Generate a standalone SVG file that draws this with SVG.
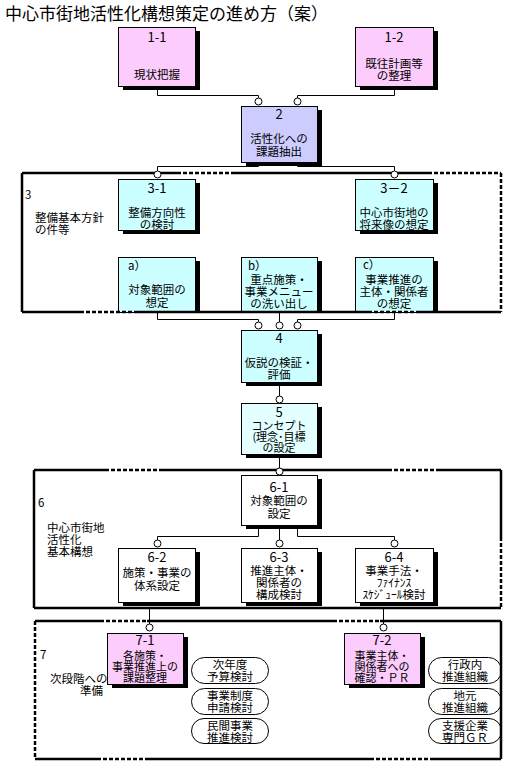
<svg xmlns="http://www.w3.org/2000/svg" width="513" height="769" viewBox="0 0 513 769">
<style>
text{font-family:"Noto Sans CJK JP","Noto Sans",sans-serif;font-size:11.5px;fill:#000}
.c{text-anchor:middle}
.num{font-size:13px}
.sm{font-size:11px}
.title{font-size:17px}
.sh{fill:#000}
.box{stroke:#000;stroke-width:1}
.pink{fill:#fcccfc}
.lav{fill:#ccccff}
.cyan{fill:#ccffff}
.lcyan{fill:#e4ffff}
.white{fill:#fff}
.pill{fill:#fff;stroke:#000;stroke-width:1}
.fs{fill:none;stroke:#000;stroke-width:2.5}
.fd{fill:none;stroke:#000;stroke-width:2.5;stroke-dasharray:4 2}
.ln{fill:none;stroke:#000;stroke-width:1}
.dot{fill:#fff;stroke:#000;stroke-width:1}
</style>
<rect width="513" height="769" fill="#fff"/>
<text class="title" x="5" y="20">中心市街地活性化構想策定の進め方（案）</text>

<g id="group3">
<text x="25" y="199">3</text>
<text x="35" y="222">整備基本方針</text>
<text x="35" y="234">の件等</text>
</g>
<g id="group6">
<text x="38" y="507">6</text>
<text x="47" y="532">中心市街地</text>
<text x="47" y="544">活性化</text>
<text x="47" y="556">基本構想</text>
</g>
<g id="group7">
<text x="40" y="659">7</text>
<text x="50" y="683">次段階への</text>
<text x="80" y="695">準備</text>
</g>

<g id="n1-1">
<rect class="sh" x="123" y="31" width="77" height="59"/>
<rect class="box pink" x="118.5" y="27.5" width="77" height="59"/>
<text class="c num" x="157" y="42">1-1</text>
<text class="c" x="157" y="79">現状把握</text>
</g>
<g id="n1-2">
<rect class="sh" x="360" y="31" width="78" height="59"/>
<rect class="box pink" x="355.5" y="27.5" width="78" height="59"/>
<text class="c num" x="394" y="42">1-2</text>
<text class="c" x="394" y="68">既往計画等</text>
<text class="c" x="394" y="80">の整理</text>
</g>
<g id="n2">
<rect class="sh" x="246" y="110" width="76" height="56"/>
<rect class="box lav" x="241.5" y="106.5" width="76" height="56"/>
<text class="c num" x="279" y="119">2</text>
<text class="c" x="279" y="143">活性化への</text>
<text class="c" x="279" y="156">課題抽出</text>
</g>
<g id="n3-1">
<rect class="sh" x="123" y="183" width="77" height="51"/>
<rect class="box cyan" x="118.5" y="179.5" width="77" height="51"/>
<text class="c num" x="157" y="193">3-1</text>
<text class="c" x="157" y="217">整備方向性</text>
<text class="c" x="157" y="229">の検討</text>
</g>
<g id="n3-2">
<rect class="sh" x="360" y="183" width="78" height="51"/>
<rect class="box cyan" x="355.5" y="179.5" width="78" height="51"/>
<text class="c num" x="394" y="193">3－2</text>
<text class="c" x="394" y="217">中心市街地の</text>
<text class="c" x="394" y="229">将来像の想定</text>
</g>
<g id="na">
<rect class="sh" x="123" y="261" width="77" height="52"/>
<rect class="box cyan" x="118.5" y="257.5" width="77" height="55"/>
<text x="128" y="270">a）</text>
<text class="c" x="157" y="294">対象範囲の</text>
<text class="c" x="157" y="307">想定</text>
</g>
<g id="nb">
<rect class="sh" x="246" y="261" width="76" height="52"/>
<rect class="box cyan" x="241.5" y="257.5" width="76" height="55"/>
<text x="248" y="270">b）</text>
<text class="c" x="279" y="284">重点施策・</text>
<text class="c" x="279" y="296">事業メニュー</text>
<text class="c" x="279" y="308">の洗い出し</text>
</g>
<g id="nc">
<rect class="sh" x="360" y="261" width="78" height="52"/>
<rect class="box cyan" x="355.5" y="257.5" width="78" height="55"/>
<text x="363" y="269">c）</text>
<text class="c" x="394" y="284">事業推進の</text>
<text class="c" x="394" y="296">主体・関係者</text>
<text class="c" x="394" y="308">の想定</text>
</g>
<g id="n4">
<rect class="sh" x="246" y="334" width="76" height="52"/>
<rect class="box cyan" x="241.5" y="330.5" width="76" height="52"/>
<text class="c num" x="279" y="343">4</text>
<text class="c" x="279" y="367">仮説の検証・</text>
<text class="c" x="279" y="379">評価</text>
</g>
<g id="n5">
<rect class="sh" x="246" y="407" width="76" height="51"/>
<rect class="box lcyan" x="241.5" y="403.5" width="76" height="51"/>
<text class="c num" x="279" y="417">5</text>
<text class="c sm" x="279" y="430">コンセプト</text>
<text class="c sm" x="279" y="441">(理念･目標</text>
<text class="c sm" x="279" y="452">の設定</text>
</g>
<g id="n6-1">
<rect class="sh" x="246" y="479" width="76" height="50"/>
<rect class="box white" x="241.5" y="475.5" width="76" height="50"/>
<text class="c num" x="279" y="492">6-1</text>
<text class="c" x="279" y="505">対象範囲の</text>
<text class="c" x="279" y="518">設定</text>
</g>
<g id="n6-2">
<rect class="sh" x="123" y="552" width="77" height="54"/>
<rect class="box white" x="118.5" y="548.5" width="77" height="54"/>
<text class="c num" x="157" y="562">6-2</text>
<text class="c" x="157" y="577">施策・事業の</text>
<text class="c" x="157" y="590">体系設定</text>
</g>
<g id="n6-3">
<rect class="sh" x="246" y="552" width="76" height="54"/>
<rect class="box white" x="241.5" y="548.5" width="76" height="54"/>
<text class="c num" x="279" y="562">6-3</text>
<text class="c" x="279" y="575">推進主体・</text>
<text class="c" x="279" y="587">関係者の</text>
<text class="c" x="279" y="599">構成検討</text>
</g>
<g id="n6-4">
<rect class="sh" x="360" y="552" width="78" height="54"/>
<rect class="box white" x="355.5" y="548.5" width="78" height="54"/>
<text class="c num" x="394" y="562">6-4</text>
<text class="c" x="394" y="575">事業手法・</text>
<text class="c" x="394" y="587">ﾌｧｲﾅﾝｽ</text>
<text class="c" x="394" y="599">ｽｹｼﾞｭｰﾙ検討</text>
</g>
<g id="n7-1">
<rect class="sh" x="112" y="637" width="76" height="51"/>
<rect class="box pink" x="107.5" y="633.5" width="76" height="51"/>
<text class="c num" x="145" y="645">7-1</text>
<text class="c sm" x="145" y="660">各施策・</text>
<text class="c sm" x="145" y="671">事業推進上の</text>
<text class="c sm" x="145" y="682">課題整理</text>
</g>
<g id="n7-2">
<rect class="sh" x="349" y="637" width="76" height="51"/>
<rect class="box pink" x="344.5" y="633.5" width="76" height="51"/>
<text class="c num" x="382" y="645">7-2</text>
<text class="c sm" x="382" y="660">事業主体・</text>
<text class="c sm" x="382" y="671">関係者への</text>
<text class="c sm" x="382" y="682">確認・ＰＲ</text>
</g>
<g id="p1">
<rect class="pill" x="191.5" y="657.5" width="77" height="26" rx="13"/>
<text class="c" x="230" y="669">次年度</text>
<text class="c" x="230" y="681">予算検討</text>
</g>
<g id="p2">
<rect class="pill" x="191.5" y="688.5" width="77" height="26" rx="13"/>
<text class="c" x="230" y="700">事業制度</text>
<text class="c" x="230" y="712">申請検討</text>
</g>
<g id="p3">
<rect class="pill" x="191.5" y="718.5" width="77" height="25" rx="12.5"/>
<text class="c" x="230" y="730">民間事業</text>
<text class="c" x="230" y="742">推進検討</text>
</g>
<g id="p4">
<rect class="pill" x="428.5" y="657.5" width="73" height="26" rx="13"/>
<text class="c" x="465" y="669">行政内</text>
<text class="c" x="465" y="681">推進組織</text>
</g>
<g id="p5">
<rect class="pill" x="428.5" y="688.5" width="73" height="26" rx="13"/>
<text class="c" x="465" y="700">地元</text>
<text class="c" x="465" y="712">推進組織</text>
</g>
<g id="p6">
<rect class="pill" x="428.5" y="718.5" width="73" height="25" rx="12.5"/>
<text class="c" x="465" y="730">支援企業</text>
<text class="c" x="465" y="742">専門ＧＲ</text>
</g>

<g id="frame3">
<path class="fs" d="M22 173H177M232 173H428M22 173V312M22 312H80M135 312H368M417 312H501"/>
<path class="fd" d="M177 173H232M428 173H501M501 173V312M80 312H135M368 312H417"/>
</g>
<g id="frame6">
<path class="fs" d="M34 470H105M160 470H388M437 470H501M501 470V537M34 470V608M34 608H501"/>
<path class="fd" d="M105 470H160M388 470H437M501 537V608"/>
</g>
<g id="frame7">
<path class="fs" d="M35 621H100M147 621H333M380 621H501M501 621V759M35 759H97M147 759H370M430 759H501"/>
<path class="fd" d="M100 621H147M333 621H380M35 621V759M97 759H147M370 759H430"/>
</g>

<g id="connectors">
<path class="ln" d="M157.5 90V95.5H258.5V98M394.5 90V95.5H297.5V98"/>
<path class="ln" d="M258.5 166V166.5H157.5V171M297.5 166V166.5H394.5V171"/>
<path class="ln" d="M157.5 313V319.5H258.5V322M279.5 313V322M394.5 313V319.5H297.5V322"/>
<path class="ln" d="M279.5 386V396M279.5 458V468"/>
<path class="ln" d="M258.5 529V536.5H157.5V540M279.5 529V540M297.5 529V536.5H394.5V540"/>
<path class="ln" d="M149.5 609V624M383.5 609V624"/>
<circle class="dot" cx="258.5" cy="101.5" r="3.5"/>
<circle class="dot" cx="297.5" cy="101.5" r="3.5"/>
<circle class="dot" cx="157.5" cy="174.5" r="3.5"/>
<circle class="dot" cx="394.5" cy="174.5" r="3.5"/>
<circle class="dot" cx="258.5" cy="325.5" r="3.5"/>
<circle class="dot" cx="279.5" cy="325.5" r="3.5"/>
<circle class="dot" cx="297.5" cy="325.5" r="3.5"/>
<circle class="dot" cx="279.5" cy="399.5" r="3.5"/>
<circle class="dot" cx="279.5" cy="471.5" r="3.5"/>
<circle class="dot" cx="157.5" cy="543.5" r="3.5"/>
<circle class="dot" cx="279.5" cy="543.5" r="3.5"/>
<circle class="dot" cx="394.5" cy="543.5" r="3.5"/>
<circle class="dot" cx="149.5" cy="627.5" r="3.5"/>
<circle class="dot" cx="383.5" cy="627.5" r="3.5"/>
</g>
</svg>
